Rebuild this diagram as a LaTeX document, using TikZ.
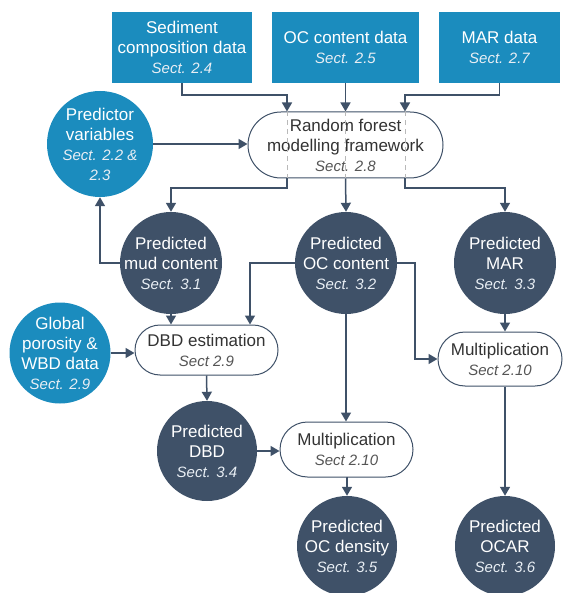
\documentclass[tikz,border=0pt]{standalone}
\usepackage{fontspec}
\setmainfont{Liberation Sans}
\usetikzlibrary{arrows.meta}
\definecolor{cblue}{RGB}{27,140,190}
\definecolor{cdark}{RGB}{63,81,104}
\definecolor{ctext}{RGB}{51,51,51}
\definecolor{csect}{RGB}{85,85,85}
\definecolor{csectw}{RGB}{232,238,244}
\newcommand{\mainf}{\fontsize{17}{20}\selectfont}
\newcommand{\sectf}{\fontsize{15}{20}\selectfont\itshape}
\newcommand{\ws}[1]{{\sectf\color{csectw}#1}}
\newcommand{\gs}[1]{{\sectf\color{csect}#1}}
\begin{document}
\begin{tikzpicture}[x=1pt,y=-1pt,
  databox/.style={rectangle, fill=cblue, text=white, font=\mainf, align=center, inner sep=0pt},
  bluecirc/.style={circle, fill=cblue, inner sep=0pt},
  darkcirc/.style={circle, fill=cdark, inner sep=0pt},
  ctxt/.style={text=white, font=\mainf, align=center, inner sep=0pt},
  pill/.style={rectangle, draw=cdark, line width=1pt, fill=white, text=ctext, font=\mainf, align=center, inner sep=0pt},
  arr/.style={draw=cdark, line width=1.5pt, -{Triangle[length=9pt,width=10pt]}},
  dashline/.style={draw=gray!55, line width=1pt, dash pattern=on 5pt off 4pt}
]
\useasboundingbox (0,0) rectangle (563,593);

% data boxes
\node[databox, minimum width=140pt, minimum height=71pt] (box1) at (182,47.5) {Sediment\\composition data\\\ws{Sect. 2.4}};
\node[databox, minimum width=147pt, minimum height=71pt] (box2) at (345.5,47.5) {OC content data\\\ws{Sect. 2.5}};
\node[databox, minimum width=121pt, minimum height=71pt] (box3) at (499.5,47.5) {MAR data\\\ws{Sect. 2.7}};

% random forest pill
\node[pill, minimum width=195pt, minimum height=66pt, rounded corners=33pt] (rf) at (345.5,145) {Random forest\\modelling framework\\\gs{Sect. 2.8}};

% predictor circle
\node[bluecirc, minimum size=106pt, label={[ctxt]center:{Predictor\\variables\\\ws{Sect. 2.2 \&}\\\ws{2.3}}}] (pred) at (100,144) {};

% predicted circles
\node[darkcirc, minimum size=102pt, label={[ctxt]center:{Predicted\\mud content\\\ws{Sect. 3.1}}}] (mud) at (171,263) {};
\node[darkcirc, minimum size=102pt, label={[ctxt]center:{Predicted\\OC content\\\ws{Sect. 3.2}}}] (oc) at (346,263) {};
\node[darkcirc, minimum size=102pt, label={[ctxt]center:{Predicted\\MAR\\\ws{Sect. 3.3}}}] (mar) at (505,263) {};

% global porosity circle
\node[bluecirc, minimum size=101pt, label={[ctxt]center:{Global\\porosity \&\\WBD data\\\ws{Sect. 2.9}}}] (glob) at (60,353) {};

% DBD estimation & multiplication pills
\node[pill, minimum width=143pt, minimum height=50pt, rounded corners=25pt] (dbde) at (206.5,350) {DBD estimation\\\gs{Sect 2.9}};
\node[pill, minimum width=124pt, minimum height=54pt, rounded corners=27pt] (mult1) at (500,359) {Multiplication\\\gs{Sect 2.10}};
\node[pill, minimum width=133pt, minimum height=55pt, rounded corners=27.5pt] (mult2) at (346.5,449.5) {Multiplication\\\gs{Sect 2.10}};

% lower circles
\node[darkcirc, minimum size=100pt, label={[ctxt]center:{Predicted\\DBD\\\ws{Sect. 3.4}}}] (dbd) at (207,451) {};
\node[darkcirc, minimum size=100pt, label={[ctxt]center:{Predicted\\OC density\\\ws{Sect. 3.5}}}] (ocd) at (347,546) {};
\node[darkcirc, minimum size=100pt, label={[ctxt]center:{Predicted\\OCAR\\\ws{Sect. 3.6}}}] (ocar) at (505,546) {};

% junction coordinates
\coordinate (j1) at (287,95);
\coordinate (j3) at (405,95);
\coordinate (d1) at (287,188);
\coordinate (d3) at (405,188);
\coordinate (k1) at (250,263);
\coordinate (k2) at (415,263);

% dashed pass-through lines inside the pill
\draw[dashline] (j1 |- rf.north) -- (j1 |- rf.south);
\draw[dashline] (rf.north) -- (rf.south);
\draw[dashline] (j3 |- rf.north) -- (j3 |- rf.south);

% connectors into random forest
\draw[arr] (box1.south) |- (j1) -- (j1 |- rf.north);
\draw[arr] (box2.south) -- (rf.north);
\draw[arr] (box3.south) |- (j3) -- (j3 |- rf.north);
\draw[arr] (pred.east) -- (pred.east -| rf.west);

% connectors out of random forest
\draw[arr] (d1 |- rf.south) -- (d1) -| (mud.north);
\draw[arr] (rf.south) -- (oc.north);
\draw[arr] (d3 |- rf.south) -- (d3) -| (mar.north);

% feedback to predictor variables
\draw[arr] (mud.west) -| (pred.south);

% DBD estimation inputs
\draw[arr] (mud.south) -- (mud.south |- dbde.north);
\draw[arr] (oc.west) -- (k1) -- (k1 |- dbde.north);
\draw[arr] (glob.east) -- (glob.east -| dbde.west);

% OCAR branch
\draw[arr] (oc.east) -- (k2) |- (mult1.west);
\draw[arr] (mar.south) -- (mar.south |- mult1.north);
\draw[arr] (ocar.north |- mult1.south) -- (ocar.north);

% OC density branch
\draw[arr] (dbde.south) -- (dbd.north);
\draw[arr] (oc.south) -- (oc.south |- mult2.north);
\draw[arr] (dbd.east) -- (dbd.east -| mult2.west);
\draw[arr] (mult2.south) -- (mult2.south -| ocd.north) -- (ocd.north);
\end{tikzpicture}
\end{document}
